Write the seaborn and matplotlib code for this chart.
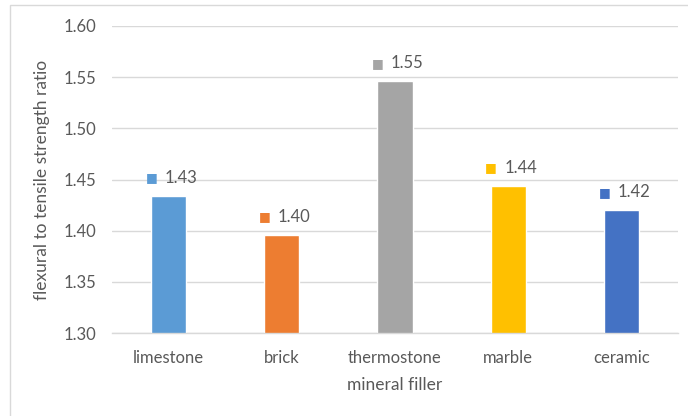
import pandas as pd
import seaborn as sns
import matplotlib.pyplot as plt
from matplotlib.patches import Rectangle

fillers = ["limestone", "brick", "thermostone", "marble", "ceramic"]
ratios = [1.434, 1.396, 1.546, 1.444, 1.420]
colors = ["#5B9BD5", "#ED7D31", "#A5A5A5", "#FFC000", "#4472C4"]

data = pd.DataFrame({"filler": fillers, "ratio": ratios})

sns.set_style("white")
plt.rcParams["font.family"] = ["Lato", "DejaVu Sans"]
grey = "#595959"

fig = plt.figure(figsize=(6.88, 4.16), dpi=100)
ax = fig.add_axes([112 / 688, 1 - 333 / 416, 566 / 688, 307 / 416])

sns.barplot(data=data, x="filler", y="ratio", hue="filler", palette=colors,
            width=0.31, legend=False, ax=ax, saturation=1)

ax.set_ylim(1.30, 1.60)
ax.set_yticks([1.30, 1.35, 1.40, 1.45, 1.50, 1.55, 1.60])
ax.set_yticklabels([f"{t:.2f}" for t in ax.get_yticks()])
ax.yaxis.grid(True, color="#D9D9D9", linewidth=1)
ax.set_axisbelow(True)
for side in ["top", "right", "left"]:
    ax.spines[side].set_visible(False)
ax.spines["bottom"].set_color("#D9D9D9")
ax.spines["bottom"].set_linewidth(1)
ax.tick_params(axis="both", length=0, labelsize=12, colors=grey)
ax.tick_params(axis="x", pad=12)
ax.tick_params(axis="y", pad=11)

ax.set_xlabel("mineral filler", fontsize=12.5, color=grey, labelpad=8)
ax.set_ylabel("flexural to tensile strength ratio", fontsize=12.5, color=grey, labelpad=10)

# data labels with legend key squares
px = 0.72
for i, (v, c) in enumerate(zip(ratios, colors)):
    ax.annotate("\u25A0", xy=(i, v), xytext=(-17 * px, 18 * px), textcoords="offset points",
                ha="center", va="center", color=c, fontsize=9, family="DejaVu Sans")
    ax.annotate(f"{v:.2f}", xy=(i, v), xytext=(-4 * px, 18 * px), textcoords="offset points",
                ha="left", va="center", color=grey, fontsize=12)

fig.patches.append(Rectangle((10 / 688, -0.05), 1.0, 1 - 5 / 416 + 0.05, transform=fig.transFigure,
                             fill=False, edgecolor="#D9D9D9", linewidth=1))

fig.savefig("out.png", dpi=100)
